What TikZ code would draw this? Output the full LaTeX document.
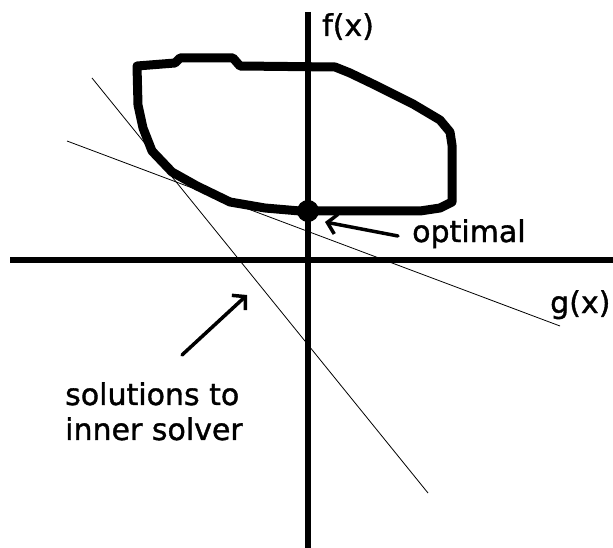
\documentclass[tikz,border=0pt]{standalone}
\usepackage{fontspec}
\setmainfont[FakeBold=1.2]{DejaVu Sans}
\usetikzlibrary{arrows.meta}

\tikzset{
  eje/.style={line width=6pt},
  region/.style={line width=9pt, line join=round, line cap=round},
  recta/.style={line width=0.8pt},
  flecha/.style={line width=3.5pt, line cap=round, -{Straight Barb[length=9pt,width=20pt]}},
  etiqueta/.style={inner sep=0pt, font=\fontsize{30}{35}\selectfont},
}

\begin{document}
\begin{tikzpicture}[x=1pt,y=-1pt]
            \useasboundingbox (0,0) rectangle (613,548);

            % Ejes
            \coordinate (xizq) at (10,260);
            \coordinate (xder) at (613,260);
            \coordinate (yarr) at (308,12);
            \coordinate (yaba) at (308,548);
            \draw[eje] (xizq) -- (xder);
            \draw[eje] (yarr) -- (yaba);
            \node[etiqueta, anchor=base west] (fx) at (322,36) {f(x)};
            \node[etiqueta, anchor=base west] (gx) at (550,313) {g(x)};

            % Region factible
            \draw[region] (137,66) -- (175,63) -- (180,58) -- (233,58) -- (240,66)
                -- (335,67) -- (350,73) -- (375,85) -- (413,104) -- (440,120)
                -- (450,132) -- (452,145) -- (452,202) -- (440,208) -- (420,211)
                -- (300,211) -- (265,208) -- (230,202) -- (197,186) -- (172,172)
                -- (152,151) -- (143,128) -- (138,105) -- cycle;

            % Rectas del solver interno
            \coordinate (r1a) at (67,141);
            \coordinate (r1b) at (560,326);
            \coordinate (r2a) at (92,78);
            \coordinate (r2b) at (428,493);
            \draw[recta] (r1a) -- (r1b);
            \draw[recta] (r2a) -- (r2b);

            % Punto optimo
            \node[circle, fill, inner sep=0pt, minimum size=22pt] (opt) at (308,211) {};
            \node[etiqueta, anchor=base west] (optlab) at (412,242) {optimal};
            \coordinate (optcola) at (398,236);
            \coordinate (optpunta) at (325,222);
            \draw[flecha] (optcola) -- (optpunta);

            % Soluciones
            \node[etiqueta, anchor=north west, align=left] (sol) at (65,382) {solutions to\\inner solver};
            \coordinate (solcola) at (182,355);
            \coordinate (solpunta) at (247,295);
            \draw[flecha] (solcola) -- (solpunta);
        \end{tikzpicture}
\end{document}
